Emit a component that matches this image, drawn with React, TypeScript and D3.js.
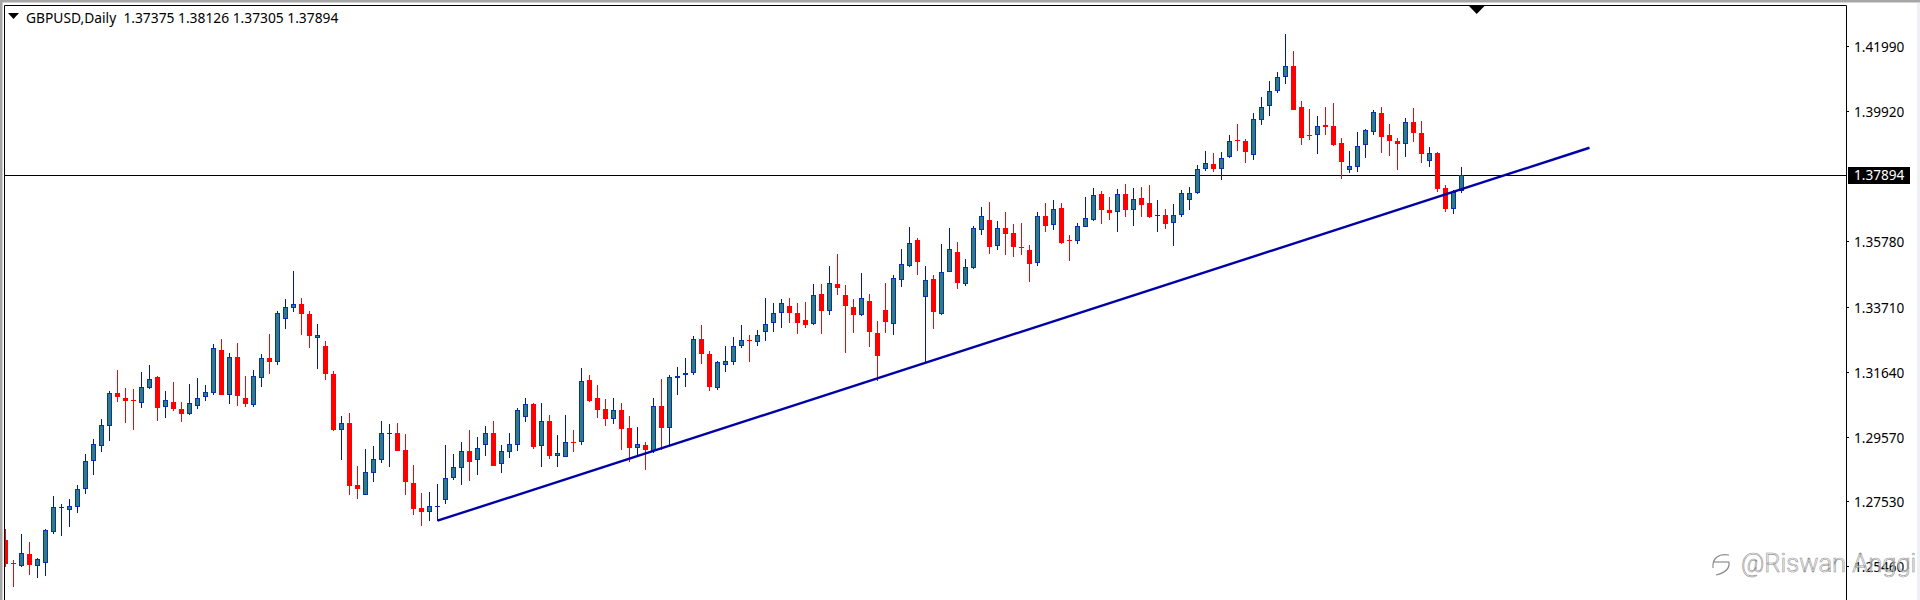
import * as d3 from "d3";

// daily candles, prices in pips (price = value / 10000)
const opens = [
  12629, 12556, 12548, 12585, 12548, 12557, 12656, 12733, 12725, 12733,
  12792, 12881, 12929, 12992, 13095, 13079, 13073, 13065, 13112, 13146,
  13052, 13069, 13047, 13029, 13056, 13084, 13097, 13234, 13091, 13212,
  13082, 13057, 13144, 13206, 13195, 13332, 13367, 13378, 13347, 13272,
  13245, 13158, 12980, 13000, 12803, 12773, 12843, 12884, 12965, 12971,
  12917, 12812, 12731, 12720, 12738, 12758, 12827, 12859, 12911, 12884,
  12932, 12971, 12872, 12910, 12932, 13021, 13063, 12929, 13009, 12897,
  12892, 12942, 12941, 13137, 13079, 13047, 13014, 13041, 12984, 12922,
  12930, 12912, 13054, 12986, 13144, 13155, 13160, 13269, 13220, 13113,
  13186, 13195, 13246, 13266, 13259, 13289, 13319, 13352, 13374, 13352,
  13327, 13315, 13412, 13357, 13444, 13406, 13371, 13344, 13388, 13288,
  13360, 13317, 13454, 13501, 13582, 13402, 13458, 13348, 13481, 13543,
  13442, 13494, 13615, 13647, 13564, 13619, 13603, 13559, 13549, 13510,
  13657, 13630, 13683, 13582, 13580, 13624, 13646, 13728, 13676, 13670,
  13728, 13678, 13714, 13701, 13657, 13663, 13637, 13662, 13710, 13731,
  13808, 13825, 13808, 13846, 13899, 13898, 13853, 13964, 14008, 14056,
  14100, 14133, 14003, 13917, 13916, 13946, 13943, 13889, 13805, 13814,
  13884, 13926, 13984, 13914, 13898, 13887, 13958, 13923, 13834, 13857,
  13746, 13681, 13737.5,
];
const highs = [
  12666, 12566, 12650, 12625, 12574, 12666, 12769, 12743, 12761, 12803,
  12902, 12952, 13013, 13102, 13170, 13112, 13110, 13162, 13184, 13149,
  13102, 13131, 13067, 13124, 13143, 13121, 13251, 13267, 13223, 13255,
  13150, 13169, 13219, 13283, 13357, 13394, 13483, 13399, 13356, 13317,
  13262, 13167, 13022, 13034, 12865, 12918, 12928, 13006, 12997, 13001,
  12967, 12867, 12778, 12782, 12807, 12930, 12902, 12942, 12978, 12957,
  12991, 13007, 12931, 12971, 13050, 13082, 13066, 13064, 13028, 12962,
  13026, 12980, 13177, 13153, 13121, 13077, 13079, 13064, 13025, 12988,
  12942, 13079, 13140, 13155, 13178, 13207, 13277, 13312, 13229, 13199,
  13245, 13274, 13312, 13280, 13296, 13397, 13382, 13395, 13398, 13382,
  13385, 13442, 13442, 13499, 13537, 13439, 13395, 13477, 13410, 13325,
  13445, 13470, 13553, 13623, 13587, 13499, 13470, 13569, 13620, 13575,
  13522, 13626, 13687, 13702, 13642, 13671, 13633, 13636, 13566, 13670,
  13699, 13709, 13699, 13598, 13635, 13718, 13747, 13737, 13720, 13744,
  13760, 13747, 13750, 13756, 13709, 13682, 13696, 13741, 13750, 13819,
  13864, 13857, 13861, 13917, 13950, 13904, 13985, 14035, 14086, 14114,
  14236, 14182, 14023, 13998, 13975, 14004, 14017, 13905, 13864, 13925,
  13936, 13994, 14003, 13950, 13905, 13968, 14001, 13959, 13877, 13863,
  13756, 13740, 13812.6,
];
const lows = [
  12545, 12479, 12545, 12518, 12510, 12515, 12648, 12642, 12670, 12716,
  12776, 12836, 12909, 12943, 13067, 13001, 12978, 13048, 13109, 13007,
  13016, 13039, 13004, 13027, 13045, 13070, 13089, 13089, 13061, 13055,
  13052, 13052, 13115, 13158, 13185, 13299, 13354, 13281, 13240, 13172,
  13137, 12976, 12883, 12772, 12759, 12773, 12814, 12875, 12862, 12912,
  12772, 12709, 12674, 12689, 12691, 12744, 12820, 12804, 12817, 12836,
  12896, 12865, 12841, 12891, 12913, 13005, 12920, 12862, 12887, 12862,
  12892, 12909, 12932, 13067, 13016, 12991, 12997, 12915, 12878, 12896,
  12851, 12906, 12915, 12929, 13089, 13115, 13154, 13188, 13103, 13107,
  13164, 13186, 13240, 13194, 13246, 13262, 13289, 13303, 13319, 13283,
  13304, 13313, 13283, 13345, 13408, 13224, 13288, 13341, 13243, 13134,
  13288, 13279, 13434, 13495, 13470, 13192, 13300, 13345, 13481, 13426,
  13436, 13491, 13598, 13537, 13550, 13534, 13527, 13534, 13449, 13499,
  13607, 13614, 13569, 13515, 13569, 13622, 13643, 13633, 13645, 13607,
  13655, 13626, 13655, 13652, 13607, 13616, 13563, 13656, 13677, 13728,
  13802, 13798, 13772, 13842, 13865, 13826, 13836, 13947, 13975, 14049,
  14077, 13994, 13883, 13899, 13855, 13915, 13879, 13777, 13794, 13798,
  13842, 13915, 13858, 13848, 13804, 13845, 13893, 13826, 13813, 13734,
  13672, 13664, 13730.5,
];
const closes = [
  12553, 12555, 12587, 12550, 12569, 12663, 12733, 12734, 12739, 12793,
  12882, 12933, 12996, 13095, 13083, 13071, 13071, 13114, 13142, 13049,
  13073, 13045, 13029, 13066, 13082, 13101, 13238, 13089, 13212, 13086,
  13061, 13149, 13209, 13194, 13349, 13368, 13380, 13348, 13278, 13280,
  13157, 12978, 13000, 12802, 12792, 12847, 12888, 12968, 12971, 12913,
  12814, 12729, 12719, 12739, 12739, 12828, 12860, 12911, 12878, 12923,
  12971, 12865, 12911, 12933, 13044, 13063, 12925, 13009, 12897, 12907,
  12942, 12941, 13136, 13070, 13043, 13014, 13041, 12983, 12922, 12933,
  12915, 13054, 12986, 13146, 13149, 13161, 13269, 13221, 13116, 13196,
  13199, 13247, 13266, 13260, 13282, 13314, 13352, 13381, 13351, 13318,
  13313, 13406, 13357, 13447, 13430, 13373, 13345, 13397, 13291, 13214,
  13323, 13460, 13505, 13574, 13513, 13454, 13354, 13479, 13555, 13445,
  13495, 13619, 13657, 13561, 13619, 13602, 13561, 13557, 13507, 13657,
  13627, 13679, 13572, 13580, 13628, 13651, 13724, 13678, 13668, 13727,
  13678, 13711, 13694, 13655, 13660, 13633, 13663, 13730, 13730, 13809,
  13828, 13808, 13841, 13895, 13897, 13861, 13965, 14003, 14054, 14101,
  14133, 13996, 13907, 13913, 13943, 13941, 13883, 13830, 13816, 13882,
  13931, 13987, 13910, 13897, 13886, 13958, 13922, 13855, 13857, 13744,
  13680, 13736, 13789.4,
];

const priceTicks = [1.4199, 1.3992, 1.3578, 1.3371, 1.3164, 1.2957, 1.2753, 1.2546];
const lastPrice = 1.37894;
const titleText = "GBPUSD,Daily  1.37375 1.38126 1.37305 1.37894";
const trendIndex = [54, 198];
const trendPrice = [1.2691, 1.3875];
const watermark = "@Riswan Anggi";

const BULL_FILL = "#2f7d78";
const BULL_LINE = "#0a30b4";
const BEAR = "#ff0000";
const FONT = "'Noto Sans', sans-serif";

const frame = { left: 4.5, top: 5.5, right: 1846.5, bottom: 600 };

const xScale = d3.scaleLinear().domain([0, 182]).range([5.5, 1461.5]);
const yScale = d3.scaleLinear().domain([1.4199, 1.24393]).range([45.7, 600]);

const py = (pips: number) => Math.round(yScale(pips / 10000));

const trendLine = d3
  .line<number>()
  .x((d) => xScale(d))
  .y((_, i) => yScale(trendPrice[i]));

export default function App() {
  return (
    <svg
      width={1920}
      height={600}
      style={{ position: "absolute", left: 0, top: 0, background: "#fff" }}
    >
      <defs>
        <clipPath id="plot">
          <rect x={frame.left} y={frame.top} width={frame.right - frame.left} height={600} />
        </clipPath>
      </defs>

      {/* window chrome */}
      <rect x={0} y={0} width={1920} height={2.5} fill="#a6a6a6" />
      <rect x={0} y={0} width={2.5} height={600} fill="#a6a6a6" />
      <rect x={1917} y={3} width={3} height={597} fill="#eef0f3" />

      <g clipPath="url(#plot)">
        {/* current price line */}
        <line
          x1={frame.left}
          x2={frame.right}
          y1={Math.round(yScale(lastPrice)) + 0.5}
          y2={Math.round(yScale(lastPrice)) + 0.5}
          stroke="#000"
        />

        {opens.map((open, i) => {
          const close = closes[i];
          const up = close >= open;
          const x = xScale(i);
          const top = py(Math.max(open, close));
          const bottom = py(Math.min(open, close));
          return (
            <g key={i}>
              <line
                x1={x}
                x2={x}
                y1={py(highs[i])}
                y2={py(lows[i])}
                stroke={up ? "#0014b4" : "#e01010"}
              />
              {bottom - top < 2 ? (
                <line
                  x1={x - 2.5}
                  x2={x + 2.5}
                  y1={top + 0.5}
                  y2={top + 0.5}
                  stroke={up ? BULL_LINE : BEAR}
                />
              ) : (
                <rect
                  x={x - 2}
                  y={top + 0.5}
                  width={4}
                  height={bottom - top - 1}
                  fill={up ? BULL_FILL : BEAR}
                  stroke={up ? BULL_LINE : BEAR}
                />
              )}
            </g>
          );
        })}

        <path
          d={trendLine(trendIndex) || ""}
          fill="none"
          stroke="#0000a8"
          strokeWidth={2.4}
        />
      </g>

      {/* frame */}
      <path
        d={`M${frame.left},600V${frame.top}H${frame.right}V600`}
        fill="none"
        stroke="#000"
      />

      {/* price axis */}
      {priceTicks.map((p) => {
        const y = Math.round(yScale(p));
        return (
          <g key={p}>
            <line x1={frame.right} x2={frame.right + 2.5} y1={y + 0.5} y2={y + 0.5} stroke="#000" />
            <text x={1854} y={y + 6} fontFamily={FONT} fontSize={13.6} fill="#000">
              {p.toFixed(5)}
            </text>
          </g>
        );
      })}
      <rect x={1848} y={167} width={62} height={17} fill="#000" />
      <text x={1854} y={Math.round(yScale(lastPrice)) + 5} fontFamily={FONT} fontSize={13.6} fill="#fff">
        {lastPrice.toFixed(5)}
      </text>

      {/* title */}
      <path d="M8,13H19L13.5,19Z" fill="#000" />
      <text x={26} y={22.5} fontFamily={FONT} fontSize={13.8} fill="#000" xmlSpace="preserve" style={{ whiteSpace: "pre" }}>
        {titleText}
      </text>

      {/* shift marker */}
      <path d="M1468.5,5.5H1485L1476.7,14Z" fill="#000" />

      {/* watermark */}
      <g fill="none" stroke="#8a8a8a" strokeWidth={1.2}>
        <path d="M1713,568C1712,558 1719,553 1729,555M1729,562C1730,569 1724,573 1716,575" />
        <path d="M1713,562H1729" />
      </g>
      <text
        x={1741}
        y={572}
        fontFamily="Roboto, sans-serif"
        fontSize={25.5}
        fontWeight={300}
        fill="#ffffff"
        fillOpacity={0.55}
        stroke="#8f8f8f"
        strokeWidth={0.6}
      >
        {watermark}
      </text>
    </svg>
  );
}
